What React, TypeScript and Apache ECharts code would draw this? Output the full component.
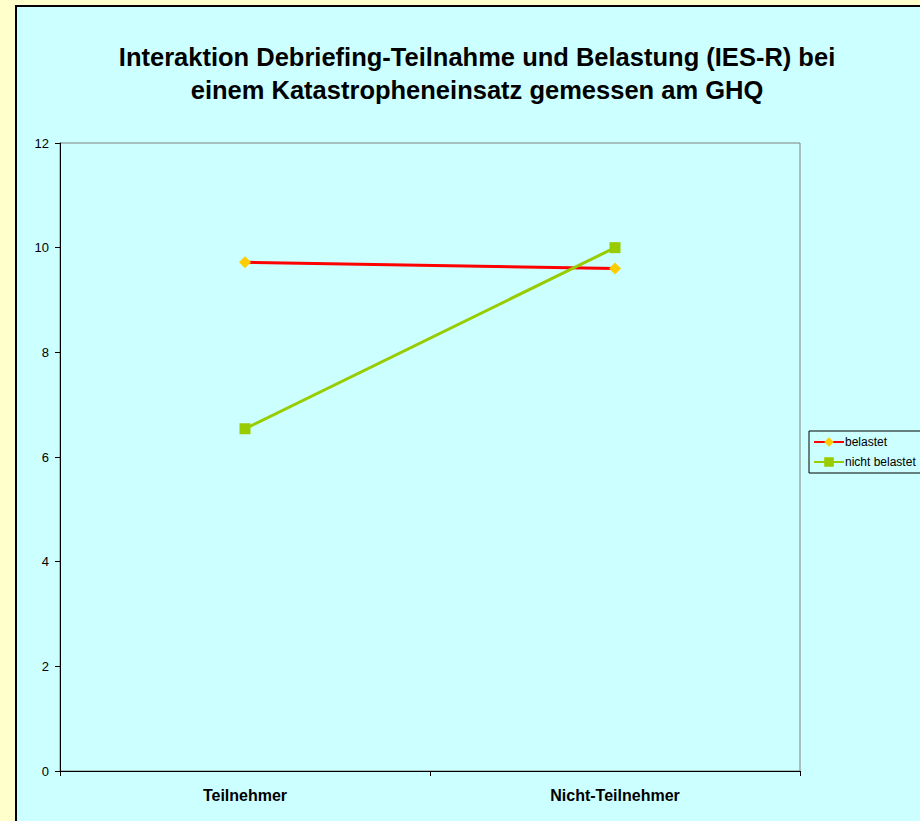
import React, { useEffect, useRef } from "react";
import * as echarts from "echarts";

const categories = ["Teilnehmer", "Nicht-Teilnehmer"];
const belastet = [9.72, 9.6];
const nichtBelastet = [6.54, 10.0];
const seriesNames = ["belastet", "nicht belastet"];
const titleText = "Interaktion Debriefing-Teilnahme und Belastung (IES-R) bei\neinem Katastropheneinsatz gemessen am GHQ";

export default function App() {
  const ref = useRef<HTMLDivElement>(null);
  useEffect(() => {
    if (!ref.current) return;
    const chart = echarts.init(ref.current, null, { renderer: "svg" });
    const font = "Arial, 'Liberation Sans', Helvetica, sans-serif";
    chart.setOption({
      animation: false,
      backgroundColor: "#FFFFCC",
      textStyle: { fontFamily: font },
      graphic: [
        {
          type: "rect",
          z: -10,
          shape: { x: 16, y: 6, width: 920, height: 830 },
          style: { fill: "#CCFFFF", stroke: "#000000", lineWidth: 2 },
        },
      ],
      title: {
        text: titleText,
        left: 472,
        textAlign: "center",
        top: 35,
        textStyle: { fontSize: 25.5, fontWeight: "bold", color: "#000", lineHeight: 33, fontFamily: font },
      },
      grid: {
        left: 60,
        top: 143,
        width: 740,
        height: 628,
        show: true,
        borderColor: "#808080",
        borderWidth: 1,
        backgroundColor: "transparent",
      },
      legend: {
        orient: "vertical",
        left: 809,
        top: 431,
        padding: [5, 12, 5, 4],
        itemGap: 8,
        itemWidth: 30,
        itemHeight: 12,
        borderColor: "#000",
        borderWidth: 1,
        backgroundColor: "#CCFFFF",
        textStyle: { fontSize: 12, color: "#000", padding: [0, 0, 0, -4], fontFamily: font },
        data: seriesNames,
      },
      xAxis: {
        type: "category",
        data: categories,
        boundaryGap: true,
        axisLine: { lineStyle: { color: "#000", width: 1 } },
        axisTick: { show: true, length: 5, inside: false, lineStyle: { color: "#000" } },
        axisLabel: { fontSize: 16, fontWeight: "bold", color: "#000", margin: 16, fontFamily: font },
        splitLine: { show: false },
      },
      yAxis: {
        type: "value",
        min: 0,
        max: 12,
        interval: 2,
        axisLine: { show: true, lineStyle: { color: "#000", width: 1 } },
        axisTick: { show: true, length: 5, lineStyle: { color: "#000" } },
        axisLabel: { fontSize: 13, color: "#000", margin: 11, fontFamily: font },
        splitLine: { show: false },
      },
      series: [
        {
          name: seriesNames[0],
          type: "line",
          data: belastet,
          symbol: "diamond",
          symbolSize: 12,
          lineStyle: { color: "#FF0000", width: 3 },
          itemStyle: { color: "#FFCC00" },
        },
        {
          name: seriesNames[1],
          type: "line",
          data: nichtBelastet,
          symbol: "rect",
          symbolSize: 11,
          lineStyle: { color: "#99CC00", width: 3 },
          itemStyle: { color: "#99CC00" },
        },
      ],
    });
    return () => chart.dispose();
  }, []);
  return (
    <div
      ref={ref}
      style={{ position: "fixed", left: 0, top: 0, width: 920, height: 821 }}
    />
  );
}
